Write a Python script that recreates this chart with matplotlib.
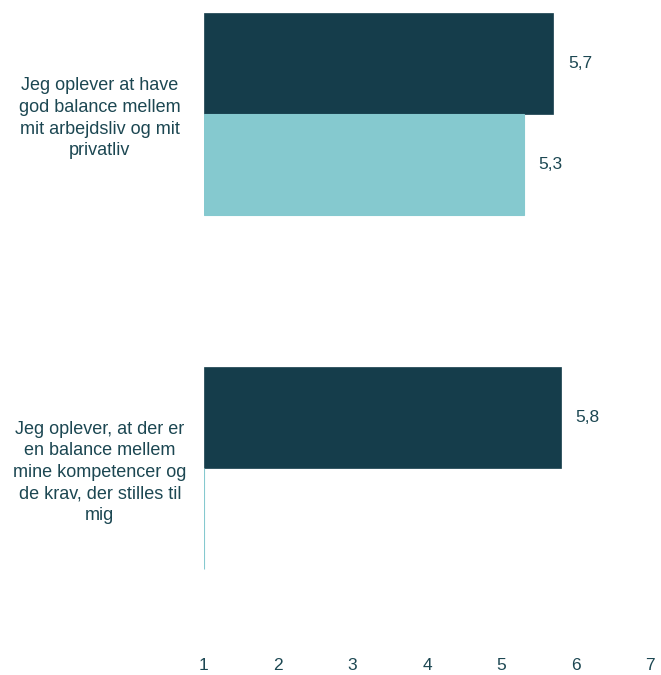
import matplotlib.pyplot as plt

plt.rcParams['font.family'] = ['Liberation Sans', 'DejaVu Sans']

kategorier = ['Jeg oplever at have\ngod balance mellem\nmit arbejdsliv og mit\nprivatliv',
              'Jeg oplever, at der er\nen balance mellem\nmine kompetencer og\nde krav, der stilles til\nmig']
serie_1 = [5.7, 5.8]
serie_2 = [5.3, 1.0]   # ingen data for nr. 2 -> kun en tynd streg ved 1
labels_1 = ['5,7', '5,8']
labels_2 = ['5,3', '']
xticks = [1, 2, 3, 4, 5, 6, 7]

moerk = '#153d4b'
lys = '#85c9cf'
tekst = '#1c4752'

fig = plt.figure(figsize=(6.61, 6.75), dpi=100)
# akse i pixels: venstre 204, hoejre 650, top 0, bund 645
ax = fig.add_axes([204 / 661, 1 - 645 / 675, (650 - 204) / 661, 645 / 675])

h = 0.285
pos = [0, 1]
b1 = ax.barh([p - h / 2 for p in pos], [v - 1 for v in serie_1], left=1, height=h,
             color=moerk, edgecolor=moerk, linewidth=0.5)
b2 = ax.barh([p + h / 2 for p in pos], [v - 1 for v in serie_2], left=1, height=h,
             color=lys, edgecolor=lys, linewidth=0.8)

ax.bar_label(b1, labels=labels_1, padding=10.5, fontsize=12.5, color=tekst)
ax.bar_label(b2, labels=labels_2, padding=10.5, fontsize=12.5, color=tekst)

ax.set_xlim(1, 7)
ax.set_ylim(1.5, -0.322)
ax.set_xticks(xticks)
ax.set_xticklabels([str(t) for t in xticks], fontsize=12.5, color=tekst)
ax.set_yticks(pos)
ax.set_yticklabels(kategorier, fontsize=13, color=tekst, ha='center', linespacing=1.35)
ax.tick_params(axis='y', length=0, pad=75)
ax.tick_params(axis='x', length=0, pad=9)
for s in ax.spines.values():
    s.set_visible(False)

fig.savefig('out.png', dpi=100)
